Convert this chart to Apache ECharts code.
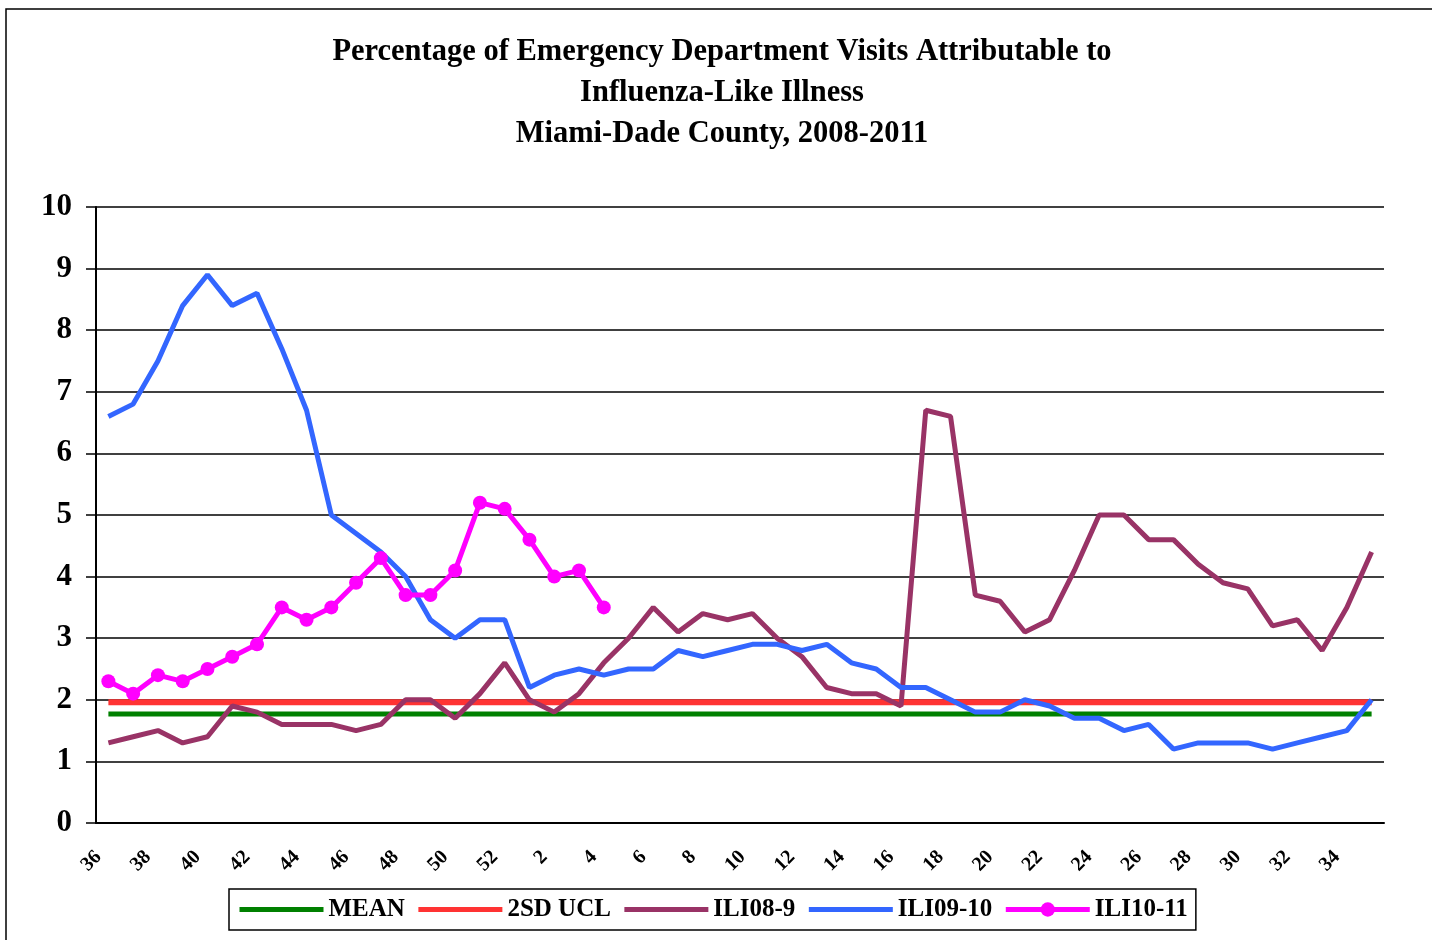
<!DOCTYPE html>
<html>
<head>
<meta charset="utf-8">
<script src="https://cdn.jsdelivr.net/npm/echarts@6/dist/echarts.min.js"></script>
<style>
  html, body { margin: 0; padding: 0; background: #fff; }
  #ili { width: 1432px; height: 940px; }
</style>
</head>
<body>
<div id="ili"></div>
<script>
// surveillance weeks 36..52 then 1..35
const weeks = ['36', '37', '38', '39', '40', '41', '42', '43', '44', '45', '46', '47', '48', '49', '50', '51', '52',
  '1', '2', '3', '4', '5', '6', '7', '8', '9', '10', '11', '12', '13', '14', '15', '16', '17', '18',
  '19', '20', '21', '22', '23', '24', '25', '26', '27', '28', '29', '30', '31', '32', '33', '34', '35'];

const meanLine = [1.77, 1.77, 1.77, 1.77, 1.77, 1.77, 1.77, 1.77, 1.77, 1.77, 1.77, 1.77, 1.77,
  1.77, 1.77, 1.77, 1.77, 1.77, 1.77, 1.77, 1.77, 1.77, 1.77, 1.77, 1.77, 1.77,
  1.77, 1.77, 1.77, 1.77, 1.77, 1.77, 1.77, 1.77, 1.77, 1.77, 1.77, 1.77, 1.77,
  1.77, 1.77, 1.77, 1.77, 1.77, 1.77, 1.77, 1.77, 1.77, 1.77, 1.77, 1.77, 1.77];

const uclLine = [1.96, 1.96, 1.96, 1.96, 1.96, 1.96, 1.96, 1.96, 1.96, 1.96, 1.96, 1.96, 1.96,
  1.96, 1.96, 1.96, 1.96, 1.96, 1.96, 1.96, 1.96, 1.96, 1.96, 1.96, 1.96, 1.96,
  1.96, 1.96, 1.96, 1.96, 1.96, 1.96, 1.96, 1.96, 1.96, 1.96, 1.96, 1.96, 1.96,
  1.96, 1.96, 1.96, 1.96, 1.96, 1.96, 1.96, 1.96, 1.96, 1.96, 1.96, 1.96, 1.96];

const ili0809 = [1.3, 1.4, 1.5, 1.3, 1.4, 1.9, 1.8, 1.6, 1.6, 1.6, 1.5, 1.6, 2.0, 2.0, 1.7, 2.1, 2.6,
  2.0, 1.8, 2.1, 2.6, 3.0, 3.5, 3.1, 3.4, 3.3, 3.4, 3.0, 2.7, 2.2, 2.1, 2.1, 1.9, 6.7, 6.6,
  3.7, 3.6, 3.1, 3.3, 4.1, 5.0, 5.0, 4.6, 4.6, 4.2, 3.9, 3.8, 3.2, 3.3, 2.8, 3.5, 4.4];

const ili0910 = [6.6, 6.8, 7.5, 8.4, 8.9, 8.4, 8.6, 7.7, 6.7, 5.0, 4.7, 4.4, 4.0, 3.3, 3.0, 3.3, 3.3,
  2.2, 2.4, 2.5, 2.4, 2.5, 2.5, 2.8, 2.7, 2.8, 2.9, 2.9, 2.8, 2.9, 2.6, 2.5, 2.2, 2.2, 2.0,
  1.8, 1.8, 2.0, 1.9, 1.7, 1.7, 1.5, 1.6, 1.2, 1.3, 1.3, 1.3, 1.2, 1.3, 1.4, 1.5, 2.0];

const ili1011 = [2.3, 2.1, 2.4, 2.3, 2.5, 2.7, 2.9, 3.5, 3.3, 3.5, 3.9, 4.3, 3.7, 3.7, 4.1, 5.2, 5.1,
  4.6, 4.0, 4.1, 3.5];

const titleLines = [
  'Percentage of Emergency Department Visits Attributable to',
  'Influenza-Like Illness',
  'Miami-Dade County, 2008-2011',
];

const serif = "'Liberation Serif', 'Times New Roman', serif";

const chart = echarts.init(document.getElementById('ili'));

function flatLine(name, data, color, width) {
  return {
    name, type: 'line', data,
    symbol: 'none',
    lineStyle: { color, width },
    itemStyle: { color },
    emphasis: { disabled: true },
  };
}

// legend entries without a marker just show the line
function plainKey(name, color) {
  return { name, itemStyle: { opacity: 0 }, lineStyle: { color, width: 5 } };
}

chart.setOption({
  animation: false,
  backgroundColor: '#fff',
  graphic: [
    {
      type: 'rect',
      shape: { x: 6, y: 9, width: 1460, height: 980 },
      style: { fill: 'none', stroke: '#000', lineWidth: 1.5 },
      silent: true,
    },
    ...titleLines.map((t, i) => ({
      type: 'text',
      x: 722,
      y: 52 + i * 41,
      silent: true,
      style: {
        text: t, textAlign: 'center', textVerticalAlign: 'middle',
        font: "bold 30.5px 'Liberation Serif', 'Times New Roman', serif", fill: '#000',
      },
    })),
  ],
  legend: {
    left: 229,
    top: 889,
    itemWidth: 84,
    itemHeight: 18,
    itemGap: 11,
    padding: [8, 8, 8, 8],
    borderColor: '#000',
    borderWidth: 1.5,
    backgroundColor: '#fff',
    textStyle: { fontFamily: serif, fontWeight: 'bold', fontSize: 25, color: '#000' },
    data: [
      plainKey('MEAN', '#008000'),
      plainKey('2SD UCL', '#ff3333'),
      plainKey('ILI08-9', '#993366'),
      plainKey('ILI09-10', '#3366ff'),
      { name: 'ILI10-11', lineStyle: { color: '#ff00ff', width: 5 } },
    ],
  },
  grid: { left: 96, right: 48, top: 207, bottom: 117 },
  xAxis: {
    type: 'category',
    data: weeks,
    boundaryGap: true,
    axisLine: { lineStyle: { color: '#000', width: 2 } },
    axisTick: { interval: 0, length: 7, lineStyle: { color: '#000', width: 1.5 } },
    axisLabel: {
      interval: 1, rotate: 45, margin: 21, padding: [0, 14, 0, 0],
      fontFamily: serif, fontWeight: 'bold', fontSize: 20, color: '#000',
    },
    splitLine: { show: false },
  },
  yAxis: {
    type: 'value',
    min: 0, max: 10, interval: 1,
    axisLine: { show: true, lineStyle: { color: '#000', width: 2 } },
    axisTick: { show: true, length: 10, lineStyle: { color: '#000', width: 1.5 } },
    axisLabel: { margin: 24, fontFamily: serif, fontWeight: 'bold', fontSize: 31, color: '#000' },
    splitLine: { lineStyle: { color: '#000', width: 1.5 } },
  },
  series: [
    flatLine('MEAN', meanLine, '#008000', 5),
    flatLine('2SD UCL', uclLine, '#ff3333', 6),
    flatLine('ILI08-9', ili0809, '#993366', 5),
    flatLine('ILI09-10', ili0910, '#3366ff', 5),
    {
      name: 'ILI10-11', type: 'line', data: ili1011,
      symbol: 'circle', symbolSize: 14,
      lineStyle: { color: '#ff00ff', width: 5 },
      itemStyle: { color: '#ff00ff' },
      emphasis: { disabled: true },
    },
  ],
});
</script>
</body>
</html>
